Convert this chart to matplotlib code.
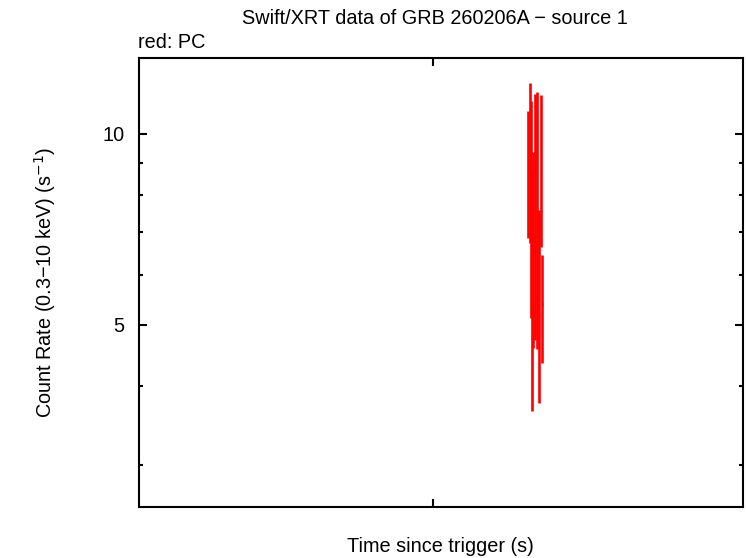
import numpy as np
import matplotlib
matplotlib.use("Agg")
import matplotlib.pyplot as plt
from matplotlib.ticker import FixedLocator, FixedFormatter, NullFormatter

plt.rcParams['font.family'] = ['Liberation Sans', 'DejaVu Sans']

# PC mode light curve points (time since trigger, count rate, errors)
t_pc = [21000, 21250, 21500, 21670, 21920, 22180, 22530, 22880, 23240, 23520]
rate_pc = [8.6, 9.0, 7.6, 5.6, 6.6, 7.3, 7.2, 5.4, 8.7, 5.4]
rate_lo = [6.86, 6.73, 5.13, 3.66, 4.60, 4.74, 4.58, 3.77, 6.64, 4.36]
rate_hi = [10.87, 12.03, 11.27, 8.68, 9.37, 11.56, 11.65, 7.59, 11.52, 6.45]
t_err = [60, 60, 60, 60, 60, 60, 60, 60, 60, 60]

title = "Swift/XRT data of GRB 260206A \u2212 source 1"
ylabel = "Count Rate (0.3\u221210 keV) (s$^{-1}$)"
xlabel = "Time since trigger (s)"

fs = 14.3

fig = plt.figure(figsize=(7.46, 5.58), dpi=100)
ax = fig.add_axes([0.1863, 0.0914, 0.8097, 0.8047])

rate = np.array(rate_pc)
yerr = [rate - np.array(rate_lo), np.array(rate_hi) - rate]
ax.errorbar(t_pc, rate, yerr=yerr, xerr=t_err, fmt='none',
            ecolor='#ff0000', elinewidth=1.9, capsize=0)

ax.set_xscale('log')
ax.set_yscale('log')
ax.set_xlim(1e3, 10**5.053)
ax.set_ylim(2.58, 13.18)

ax.xaxis.set_major_locator(FixedLocator([1e4]))
ax.xaxis.set_minor_locator(FixedLocator([]))
ax.xaxis.set_major_formatter(NullFormatter())
ax.xaxis.set_minor_formatter(NullFormatter())

ax.yaxis.set_major_locator(FixedLocator([5, 10]))
ax.yaxis.set_minor_locator(FixedLocator([3, 4, 6, 7, 8, 9]))
ax.yaxis.set_major_formatter(FixedFormatter(['5', '10']))
ax.yaxis.set_minor_formatter(NullFormatter())

ax.tick_params(which='both', direction='in', top=True, right=True, width=1.5,
               labelsize=fs, pad=10.5)
ax.tick_params(which='major', length=6)
ax.tick_params(which='minor', length=3)
for s in ax.spines.values():
    s.set_linewidth(1.5)

fig.text(435 / 746, 1 - 18 / 558, title, ha='center', va='center', fontsize=fs)
fig.text(138 / 746, 1 - 42 / 558, "red: PC", ha='left', va='center', fontsize=fs)
fig.text(45 / 746, 1 - 282 / 558, ylabel, ha='center', va='center',
         rotation=90, fontsize=fs)
fig.text(440 / 746, 1 - 546 / 558, xlabel, ha='center', va='center', fontsize=fs)

fig.savefig("out.png", dpi=100)
